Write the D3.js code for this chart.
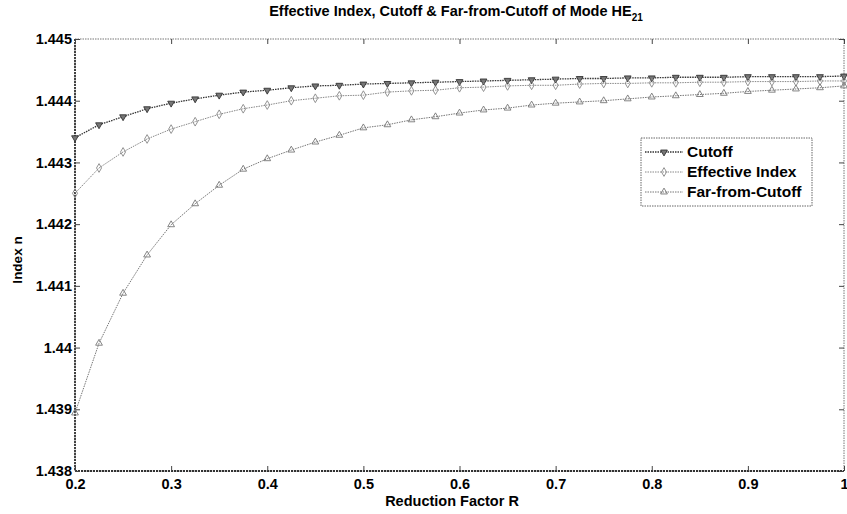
<!DOCTYPE html>
<html><head><meta charset="utf-8">
<script src="https://cdn.jsdelivr.net/npm/d3@7/dist/d3.min.js"></script>
<style>body{margin:0;background:#fff;}svg{display:block;font-family:"Liberation Sans",Arial,sans-serif;}</style>
</head><body>
<svg id="c" width="847" height="514"></svg>
<script>
const rValues = [0.2,0.225,0.25,0.275,0.3,0.325,0.35,0.375,0.4,0.425,0.45,0.475,0.5,0.525,0.55,0.575,0.6,0.625,0.65,0.675,0.7,0.725,0.75,0.775,0.8,0.825,0.85,0.875,0.9,0.925,0.95,0.975,1.0];
const cutoff = [1.44340,1.44361,1.44374,1.44387,1.44396,1.44403,1.44409,1.44414,1.44417,1.44421,1.44424,1.44425,1.44427,1.44428,1.44429,1.44430,1.44431,1.44432,1.44433,1.44434,1.44435,1.44436,1.44436,1.44437,1.44437,1.44438,1.44438,1.44438,1.44439,1.44439,1.44439,1.44439,1.44440];
const effective = [1.44250,1.44291,1.44317,1.44338,1.44354,1.44366,1.44378,1.44387,1.44393,1.44400,1.44404,1.44408,1.44409,1.44414,1.44416,1.44417,1.44421,1.44422,1.44424,1.44425,1.44425,1.44427,1.44428,1.44428,1.44429,1.44429,1.44430,1.44430,1.44431,1.44431,1.44431,1.44432,1.44432];
const farFromCutoff = [1.43894,1.44007,1.44088,1.44150,1.44199,1.44233,1.44263,1.44289,1.44306,1.44320,1.44333,1.44344,1.44356,1.44361,1.44369,1.44374,1.44380,1.44385,1.44388,1.44393,1.44396,1.44398,1.44400,1.44403,1.44406,1.44408,1.44410,1.44412,1.44415,1.44417,1.44419,1.44421,1.44424];
const xTicks = [0.2,0.3,0.4,0.5,0.6,0.7,0.8,0.9,1];
const xTickLabels = ["0.2","0.3","0.4","0.5","0.6","0.7","0.8","0.9","1"];
const yTicks = [1.438,1.439,1.440,1.441,1.442,1.443,1.444,1.445];
const yTickLabels = ["1.438","1.439","1.44","1.441","1.442","1.443","1.444","1.445"];
const seriesNames = ["Cutoff","Effective Index","Far-from-Cutoff"];

const svg = d3.select("#c");
const L=75, R=844, T=39, B=471;
const x = d3.scaleLinear().domain([0.2,1]).range([L,R]);
const y = d3.scaleLinear().domain([1.438,1.445]).range([B,T]);

// frame
svg.append("rect").attr("x",L).attr("y",T).attr("width",R-L).attr("height",B-T)
  .attr("fill","none").attr("stroke","#777").attr("stroke-width",1).attr("stroke-dasharray","1.5,1");
svg.append("line").attr("x1",L).attr("x2",L).attr("y1",T).attr("y2",B).attr("stroke","#333").attr("stroke-width",1.8).attr("stroke-dasharray","2,1");
svg.append("line").attr("x1",L).attr("x2",R).attr("y1",B).attr("y2",B).attr("stroke","#333").attr("stroke-width",1.8).attr("stroke-dasharray","2,1");

// axes
const xAx = svg.append("g").attr("transform",`translate(0,${B})`)
  .call(d3.axisBottom(x).tickValues(xTicks).tickFormat((d,i)=>xTickLabels[i]).tickSizeInner(-5).tickSizeOuter(0).tickPadding(8));
const xAxTop = svg.append("g").attr("transform",`translate(0,${T})`)
  .call(d3.axisTop(x).tickValues(xTicks).tickFormat("").tickSizeInner(-5).tickSizeOuter(0));
const yAx = svg.append("g").attr("transform",`translate(${L},0)`)
  .call(d3.axisLeft(y).tickValues(yTicks).tickFormat((d,i)=>yTickLabels[i]).tickSizeInner(-5).tickSizeOuter(0).tickPadding(3));
const yAxR = svg.append("g").attr("transform",`translate(${R},0)`)
  .call(d3.axisRight(y).tickValues(yTicks).tickFormat("").tickSizeInner(-5).tickSizeOuter(0));
[xAx,xAxTop,yAx,yAxR].forEach(g=>{
  g.select(".domain").remove();
  g.selectAll(".tick line").attr("stroke","#444").attr("stroke-width",1);
  g.selectAll("text").attr("fill","#000").style("font-size","14.5px").style("font-weight","bold");
});
// keep the last x label inside the page
xAx.selectAll(".tick text").filter(d=>d===1).attr("text-anchor","end").attr("dx","4");

// series
const series = [
  {name:seriesNames[0], values:cutoff, stroke:"#333", width:1.3, marker:"down", mfill:"#777", msize:20},
  {name:seriesNames[1], values:effective, stroke:"#888", width:1, marker:"diamond", mfill:"none", msize:22},
  {name:seriesNames[2], values:farFromCutoff, stroke:"#777", width:1, marker:"triangle", mfill:"none", msize:20}
];
const symMap = {down:d3.symbolTriangle, diamond:d3.symbolDiamond, triangle:d3.symbolTriangle};
const line = d3.line().x((d,i)=>x(rValues[i])).y(d=>y(d));
function marker(g, s, cx, cy){
  g.append("path").attr("d",d3.symbol().type(symMap[s.marker]).size(s.msize)())
   .attr("transform",`translate(${cx},${cy})` + (s.marker==="down"?" rotate(180)":""))
   .attr("fill",s.mfill).attr("stroke",s.stroke).attr("stroke-width",0.9);
}
series.forEach(s=>{
  svg.append("path").datum(s.values).attr("d",line).attr("fill","none")
    .attr("stroke",s.stroke).attr("stroke-width",s.width).attr("stroke-dasharray","1.5,1");
  const g = svg.append("g");
  s.values.forEach((v,i)=>marker(g,s,x(rValues[i]),y(v)));
});

// legend
const lg = svg.append("g");
lg.append("rect").attr("x",641).attr("y",138).attr("width",171).attr("height",68)
  .attr("fill","#fff").attr("stroke","#666").attr("stroke-width",1).attr("stroke-dasharray","1.5,1");
series.forEach((s,i)=>{
  const yy = 152 + i*20;
  lg.append("line").attr("x1",645).attr("x2",683).attr("y1",yy).attr("y2",yy)
    .attr("stroke",s.stroke).attr("stroke-width",s.width).attr("stroke-dasharray","1.5,1");
  marker(lg,s,664,yy);
  lg.append("text").attr("x",687).attr("y",yy+5).text(s.name)
    .style("font-size","15.5px").style("font-weight","bold").attr("fill","#000");
});

// title & labels
const title = svg.append("text").attr("x",456).attr("y",16).attr("text-anchor","middle")
  .style("font-size","14.5px").style("font-weight","bold");
title.append("tspan").text("Effective Index, Cutoff & Far-from-Cutoff of Mode HE");
title.append("tspan").attr("dy",5).style("font-size","10px").text("21");
svg.append("text").attr("x",452).attr("y",506).attr("text-anchor","middle")
  .style("font-size","14.5px").style("font-weight","bold").text("Reduction Factor R");
svg.append("text").attr("transform","translate(22,260) rotate(-90)").attr("text-anchor","middle")
  .style("font-size","13.5px").style("font-weight","bold").text("Index n");
</script>
</body></html>
